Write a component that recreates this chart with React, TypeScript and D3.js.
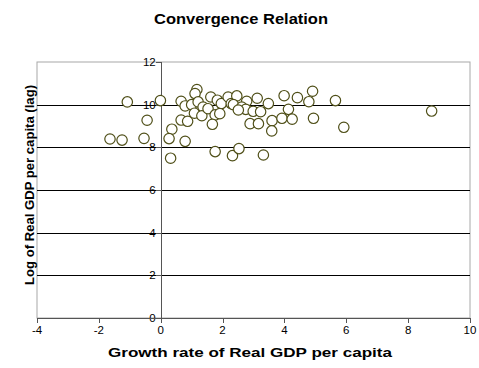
import React from "react";
import * as d3 from "d3";

const growth = [
  -1.64, -1.25, -0.54, -1.08, -0.01, -0.44, 0.36, 0.27, 0.32, 0.79,
  0.66, 0.87, 0.66, 0.79, 1.0, 1.17, 1.11, 1.21, 1.37, 1.09,
  1.33, 1.62, 1.83, 1.96, 2.18, 2.28, 1.53, 1.76, 1.91, 1.67,
  1.76, 2.32, 2.53, 2.46, 2.78, 3.12, 3.48, 2.35, 2.62, 2.75,
  2.51, 2.99, 3.23, 2.89, 3.16, 3.6, 3.59, 3.32, 3.99, 4.42,
  4.91, 4.79, 5.65, 4.13, 3.92, 4.25, 4.94, 5.92, 8.76,
];
const logGdp = [
  8.39, 8.34, 8.42, 10.13, 10.19, 9.27, 8.85, 8.41, 7.49, 8.28,
  9.28, 9.22, 10.16, 9.94, 10.0, 10.71, 10.52, 10.13, 9.89, 9.6,
  9.48, 10.36, 10.21, 10.05, 10.36, 10.05, 9.81, 9.52, 9.58, 9.08,
  7.8, 7.61, 7.94, 10.41, 10.16, 10.3, 10.05, 10.0, 9.89, 9.78,
  9.75, 9.69, 9.67, 9.11, 9.11, 9.25, 8.77, 7.64, 10.42, 10.33,
  10.63, 10.14, 10.19, 9.78, 9.36, 9.32, 9.36, 8.94, 9.7,
];
const xTicks = [-4, -2, 0, 2, 4, 6, 8, 10];
const yTicks = [0, 2, 4, 6, 8, 10, 12];
const title = "Convergence Relation";
const xTitle = "Growth rate of Real GDP per capita";
const yTitle = "Log of Real GDP per capita (lag)";

export default function App() {
  const W = 479, H = 368;
  const left = 37, right = 470, top = 62, bottom = 318;
  const x = d3.scaleLinear().domain([-4, 10]).range([left, right]);
  const y = d3.scaleLinear().domain([0, 12]).range([bottom, top]);
  const font = "'Liberation Sans', Arial, sans-serif";
  const x0 = x(0);
  return (
    <svg width={W} height={H} style={{ position: "absolute", left: 0, top: 0, background: "#fff" }} fontFamily={font}>
      <rect x={0} y={0} width={W} height={H} fill="#fff" />
      <text x={241} y={24} textAnchor="middle" fontSize={14.5} fontWeight="bold" textLength={174} lengthAdjust="spacingAndGlyphs">{title}</text>
      <rect x={left} y={top} width={right - left} height={bottom - top} fill="#fff" stroke="#a8a8a8" strokeWidth={1} />
      {yTicks.filter(t => t > 0 && t < 12).map(t => (
        <line key={"g" + t} x1={left} x2={right} y1={Math.round(y(t)) + 0.5} y2={Math.round(y(t)) + 0.5} stroke="#000" strokeWidth={1} />
      ))}
      <line x1={Math.round(x0) + 0.5} x2={Math.round(x0) + 0.5} y1={top} y2={bottom} stroke="#555" strokeWidth={1} />
      {yTicks.map(t => (
        <g key={"yt" + t}>
          <line x1={Math.round(x0) - 5} x2={Math.round(x0)} y1={Math.round(y(t)) + 0.5} y2={Math.round(y(t)) + 0.5} stroke="#555" />
          <text x={x0 - 5} y={y(t) + 4} textAnchor="end" fontSize={11.5}>{t}</text>
        </g>
      ))}
      <line x1={left} x2={right} y1={bottom + 0.5} y2={bottom + 0.5} stroke="#555" strokeWidth={1} />
      {xTicks.map(t => (
        <g key={"xt" + t}>
          <line x1={Math.round(x(t)) + 0.5} x2={Math.round(x(t)) + 0.5} y1={bottom} y2={bottom + 5} stroke="#555" />
          <text x={x(t)} y={334} textAnchor="middle" fontSize={11.5}>{t}</text>
        </g>
      ))}
      <text x={250} y={357} textAnchor="middle" fontSize={12.5} fontWeight="bold" textLength={284} lengthAdjust="spacingAndGlyphs">{xTitle}</text>
      <text transform={`translate(34,185) rotate(-90)`} textAnchor="middle" fontSize={12} fontWeight="bold" textLength={200} lengthAdjust="spacingAndGlyphs">{yTitle}</text>
      {growth.map((g, i) => (
        <circle key={"p" + i} cx={x(g)} cy={y(logGdp[i])} r={5.2} fill="#fff" stroke="#4f4f18" strokeWidth={1.2} />
      ))}
    </svg>
  );
}
